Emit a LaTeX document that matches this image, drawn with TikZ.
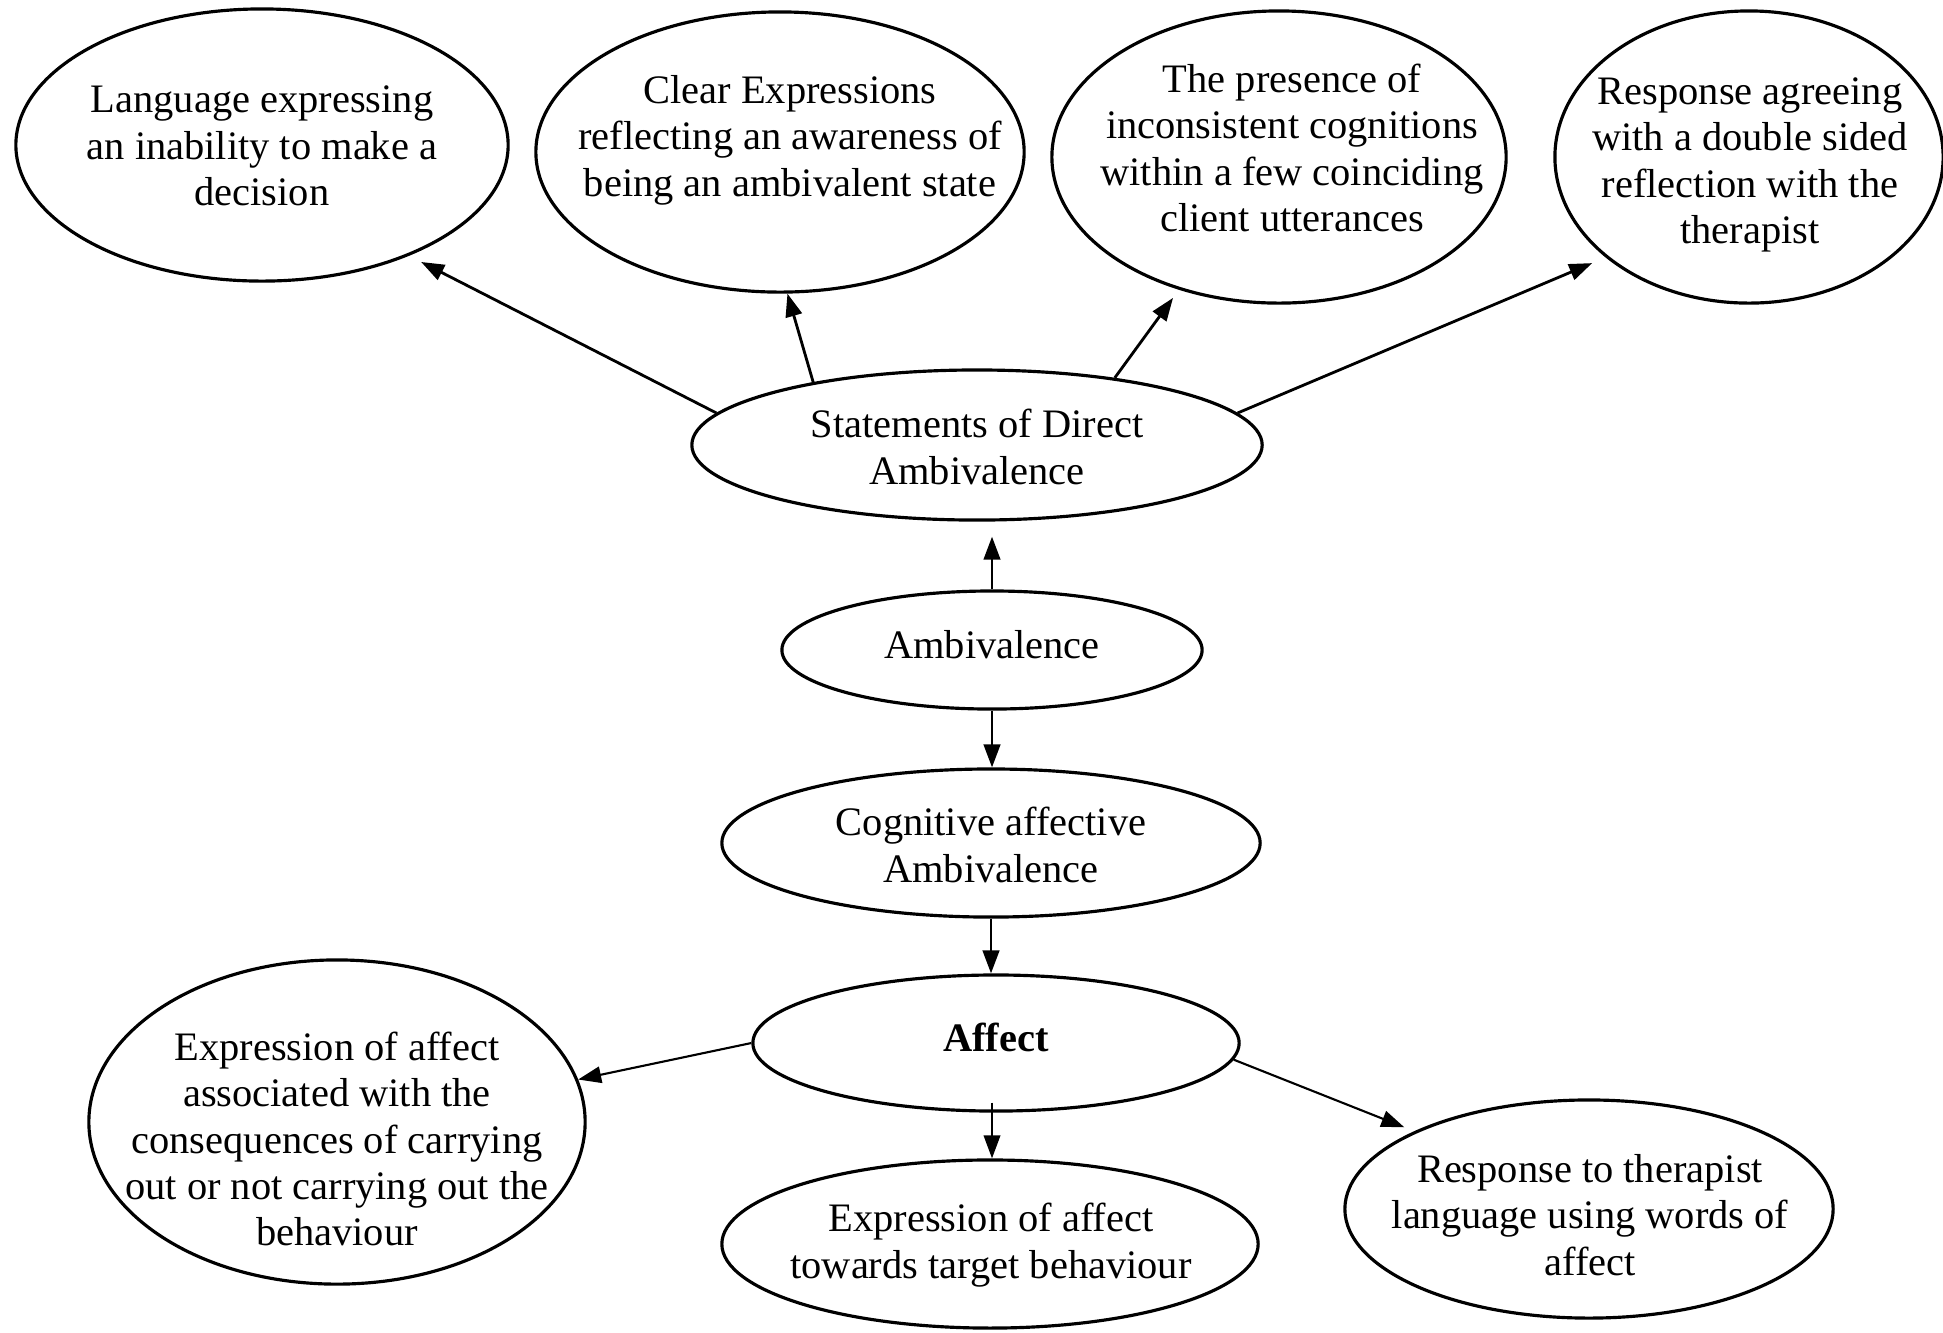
\documentclass[tikz,border=0pt]{standalone}
\usepackage{fontspec}
\setmainfont{Liberation Serif}
\usetikzlibrary{shapes.geometric,arrows.meta}
\begin{document}
\begin{tikzpicture}[x=0.01cm,y=-0.01cm,
  bub/.style={ellipse,draw,line width=0.9pt,inner sep=0pt},
  txt/.style={align=center,inner sep=0pt,font=\fontsize{11.5pt}{13.2pt}\selectfont},
  arr/.style={-{Triangle[length=2.3mm,width=1.65mm]},line width=0.8pt},
  thinarr/.style={arr,line width=0.6pt}]
\useasboundingbox (0,0) rectangle (1943,1332);

% top row: observable indicators of direct ambivalence
\node[bub,minimum width=4.92cm,minimum height=2.72cm] (lang) at (262,145) {};
\node[txt] (lang-t) at (262,146) {Language expressing\\an inability to make a\\decision};
\node[bub,minimum width=4.88cm,minimum height=2.80cm] (clear) at (780,152) {};
\node[txt] (clear-t) at (790,140) {Clear Expressions\\reflecting an awareness of\\being an ambivalent state};
\node[bub,minimum width=4.54cm,minimum height=2.92cm] (incons) at (1279,157) {};
\node[txt] (incons-t) at (1292,148) {The presence of\\inconsistent cognitions\\within a few coinciding\\client utterances};
\node[bub,minimum width=3.88cm,minimum height=2.92cm] (agree) at (1749,157) {};
\node[txt] (agree-t) at (1750,165) {Response agreeing\\with a double sided\\reflection with the\\therapist};

% central chain
\node[bub,minimum width=5.70cm,minimum height=1.50cm] (stm) at (977,445) {};
\node[txt] (stm-t) at (977,447) {Statements of Direct\\Ambivalence};
\node[bub,minimum width=4.20cm,minimum height=1.18cm] (amb) at (992,650) {};
\node[txt] (amb-t) at (992,645) {Ambivalence};
\node[bub,minimum width=5.38cm,minimum height=1.48cm] (cog) at (991,843) {};
\node[txt] (cog-t) at (991,845) {Cognitive affective\\Ambivalence};
\node[bub,minimum width=4.86cm,minimum height=1.36cm] (aff) at (996,1043) {};
\node[txt] (aff-t) at (996,1037) {\bfseries Affect};

% bottom row: expressions of affect
\node[bub,minimum width=4.96cm,minimum height=3.24cm] (conseq) at (337,1122) {};
\node[txt] (conseq-t) at (337,1139) {Expression of affect\\associated with the\\consequences of carrying\\out or not carrying out the\\behaviour};
\node[bub,minimum width=5.36cm,minimum height=1.68cm] (target) at (990,1244) {};
\node[txt] (target-t) at (991,1245) {Expression of affect\\towards target behaviour};
\node[bub,minimum width=4.88cm,minimum height=2.18cm] (words) at (1589,1209) {};
\node[txt] (words-t) at (1590,1215) {Response to therapist\\language using words of\\affect};

% connectors
\draw[arr,shorten >=0.136cm] (stm.173.1) -- (lang.-37.1);
\draw[arr] (stm.159.7) -- (clear.-87.2);
\draw[arr,shorten >=0.10cm] (stm.26.1) -- (incons.-127.8);
\draw[arr,shorten >=0.145cm] (stm.7.45) -- (agree.-145.8);
\draw[arr,shorten >=0.15cm] (amb.north) -- (amb.north |- stm.south);
\draw[arr] (amb.south) -- (amb.south |- cog.north);
\draw[arr] (cog.south) -- (cog.south |- aff.north);
\draw[thinarr] (aff.west) -- (conseq.10.9);
\draw[thinarr,shorten <=-0.1cm] ([xshift=-0.04cm]aff.south) -- ([xshift=-0.04cm]aff.south |- target.north);
\draw[thinarr,shorten >=0.107cm] (aff.-4.93) -- (words.156.6);
\end{tikzpicture}
\end{document}
